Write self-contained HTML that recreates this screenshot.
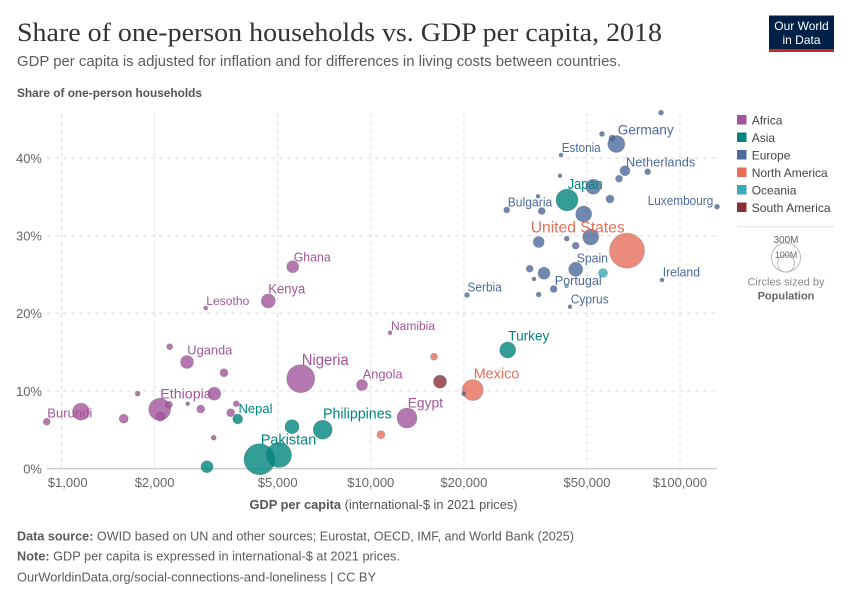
<!DOCTYPE html>
<html><head><meta charset="utf-8"><style>
html,body{margin:0;padding:0;background:#fff;}
svg{display:block;font-family:"Liberation Sans",Arial,sans-serif;}
</style></head><body>
<svg width="850" height="600" viewBox="0 0 850 600" xmlns="http://www.w3.org/2000/svg">
<rect width="850" height="600" fill="#fff"/>
<!-- Header -->
<text x="17" y="41" font-family="Liberation Serif, serif" font-size="26" fill="#333" textLength="645" lengthAdjust="spacingAndGlyphs">Share of one-person households vs. GDP per capita, 2018</text>
<text x="17" y="66" font-size="14.5" fill="#5b5b5b" textLength="604" lengthAdjust="spacingAndGlyphs">GDP per capita is adjusted for inflation and for differences in living costs between countries.</text>
<text x="17" y="97" font-size="12" font-weight="bold" fill="#555" textLength="185" lengthAdjust="spacingAndGlyphs">Share of one-person households</text>
<!-- Logo -->
<rect x="769" y="15.5" width="65" height="36" fill="#002147"/>
<rect x="769" y="49" width="65" height="3" fill="#ce261e"/>
<text x="801.5" y="30" font-size="12" fill="#fff" text-anchor="middle">Our World</text>
<text x="801.5" y="44" font-size="12" fill="#fff" text-anchor="middle">in Data</text>

<!-- Grid -->
<g stroke="#ddd" stroke-width="1" stroke-dasharray="4,4" fill="none">
<line x1="47" y1="391" x2="717" y2="391"/>
<line x1="47" y1="313.3" x2="717" y2="313.3"/>
<line x1="47" y1="235.7" x2="717" y2="235.7"/>
<line x1="47" y1="158" x2="717" y2="158"/>
<line x1="61.5" y1="113" x2="61.5" y2="468"/>
<line x1="154.6" y1="113" x2="154.6" y2="468"/>
<line x1="277.7" y1="113" x2="277.7" y2="468"/>
<line x1="370.8" y1="113" x2="370.8" y2="468"/>
<line x1="463.9" y1="113" x2="463.9" y2="468"/>
<line x1="587" y1="113" x2="587" y2="468"/>
<line x1="680" y1="113" x2="680" y2="468"/>
</g>
<line x1="47" y1="468.7" x2="717" y2="468.7" stroke="#bbb" stroke-width="1"/>

<!-- Y tick labels -->
<g font-size="13" fill="#666" text-anchor="end">
<text x="42" y="473.5">0%</text>
<text x="42" y="395.8">10%</text>
<text x="42" y="318">20%</text>
<text x="42" y="240.5">30%</text>
<text x="42" y="162.8">40%</text>
</g>
<!-- X tick labels -->
<g font-size="13" fill="#666" text-anchor="middle">
<text x="67.7" y="487">$1,000</text>
<text x="154.6" y="487">$2,000</text>
<text x="277.7" y="487">$5,000</text>
<text x="370.8" y="487">$10,000</text>
<text x="463.9" y="487">$20,000</text>
<text x="587" y="487">$50,000</text>
<text x="680" y="487">$100,000</text>
</g>
<text x="249.5" y="509" font-size="13" fill="#555" textLength="268" lengthAdjust="spacingAndGlyphs"><tspan font-weight="bold">GDP per capita</tspan> (international-$ in 2021 prices)</text>

<!-- Bubbles -->
<g stroke="#333" stroke-opacity="0.3" stroke-width="0.6" fill-opacity="0.8">
<!-- large first -->
<circle cx="627" cy="250.7" r="17.5" fill="#e56e5a"/>
<circle cx="259.5" cy="459.3" r="15.5" fill="#00847e"/>
<circle cx="300.7" cy="378.7" r="14" fill="#a2559c"/>
<circle cx="279" cy="455" r="12.5" fill="#00847e"/>
<circle cx="159.7" cy="409.3" r="11" fill="#a2559c"/>
<circle cx="567" cy="200" r="11" fill="#00847e"/>
<circle cx="472.7" cy="390" r="10.5" fill="#e56e5a"/>
<circle cx="407" cy="418" r="10" fill="#a2559c"/>
<circle cx="322.7" cy="429.7" r="9.5" fill="#00847e"/>
<circle cx="81" cy="411.7" r="8.5" fill="#a2559c"/>
<circle cx="616.3" cy="144" r="8.5" fill="#4c6a9c"/>
<circle cx="583.7" cy="214" r="8" fill="#4c6a9c"/>
<circle cx="590.7" cy="237" r="8" fill="#4c6a9c"/>
<circle cx="507.7" cy="350" r="8" fill="#00847e"/>
<circle cx="593.3" cy="186.7" r="7.5" fill="#4c6a9c"/>
<circle cx="268.3" cy="301" r="7" fill="#a2559c"/>
<circle cx="292" cy="426.7" r="7" fill="#00847e"/>
<circle cx="575.7" cy="269.3" r="7" fill="#4c6a9c"/>
<circle cx="187" cy="362" r="6.5" fill="#a2559c"/>
<circle cx="214.3" cy="393.7" r="6.5" fill="#a2559c"/>
<circle cx="440" cy="381.7" r="6.5" fill="#883039"/>
<circle cx="292.7" cy="266.7" r="6" fill="#a2559c"/>
<circle cx="207" cy="466.7" r="6" fill="#00847e"/>
<circle cx="544" cy="273.3" r="6" fill="#4c6a9c"/>
<circle cx="362" cy="385" r="5.5" fill="#a2559c"/>
<circle cx="538.7" cy="242" r="5.5" fill="#4c6a9c"/>
<circle cx="237.7" cy="419" r="5" fill="#00847e"/>
<circle cx="625" cy="170.7" r="5" fill="#4c6a9c"/>
<circle cx="123.7" cy="418.7" r="4.5" fill="#a2559c"/>
<circle cx="160.3" cy="416.7" r="4.5" fill="#a2559c"/>
<circle cx="603" cy="273" r="4.5" fill="#38aaba"/>
<circle cx="224" cy="372.7" r="4" fill="#a2559c"/>
<circle cx="200.7" cy="409" r="4" fill="#a2559c"/>
<circle cx="230.7" cy="412.7" r="4" fill="#a2559c"/>
<circle cx="381" cy="434.7" r="4" fill="#e56e5a"/>
<circle cx="610" cy="199" r="4" fill="#4c6a9c"/>
<circle cx="46.7" cy="421.7" r="3.5" fill="#a2559c"/>
<circle cx="169" cy="404.7" r="3.5" fill="#a2559c"/>
<circle cx="434" cy="356.7" r="3.5" fill="#e56e5a"/>
<circle cx="619" cy="178.7" r="3.5" fill="#4c6a9c"/>
<circle cx="541.7" cy="211" r="3.5" fill="#4c6a9c"/>
<circle cx="575.7" cy="245.7" r="3.5" fill="#4c6a9c"/>
<circle cx="529.7" cy="268.7" r="3.5" fill="#4c6a9c"/>
<circle cx="553.7" cy="289" r="3.5" fill="#4c6a9c"/>
<circle cx="169.7" cy="346.7" r="3" fill="#a2559c"/>
<circle cx="236.3" cy="403.7" r="3" fill="#a2559c"/>
<circle cx="612" cy="138" r="3" fill="#4c6a9c"/>
<circle cx="647.7" cy="171.7" r="3" fill="#4c6a9c"/>
<circle cx="506.7" cy="210" r="3" fill="#4c6a9c"/>
<circle cx="137.7" cy="393.7" r="2.5" fill="#a2559c"/>
<circle cx="213.7" cy="437.7" r="2.5" fill="#a2559c"/>
<circle cx="467" cy="295" r="2.5" fill="#4c6a9c"/>
<circle cx="661" cy="112.7" r="2.5" fill="#4c6a9c"/>
<circle cx="602" cy="134" r="2.5" fill="#4c6a9c"/>
<circle cx="717" cy="206.7" r="2.5" fill="#4c6a9c"/>
<circle cx="566.7" cy="238.7" r="2.5" fill="#4c6a9c"/>
<circle cx="538.7" cy="294.5" r="2.5" fill="#4c6a9c"/>
<circle cx="205.7" cy="308" r="2" fill="#a2559c"/>
<circle cx="187.7" cy="403.7" r="2" fill="#a2559c"/>
<circle cx="390" cy="332.7" r="2" fill="#a2559c"/>
<circle cx="566.5" cy="286" r="2" fill="#38aaba"/>
<circle cx="463.7" cy="393.7" r="2" fill="#4c6a9c"/>
<circle cx="561" cy="155" r="2" fill="#4c6a9c"/>
<circle cx="560" cy="175.7" r="2" fill="#4c6a9c"/>
<circle cx="538" cy="196.3" r="2" fill="#4c6a9c"/>
<circle cx="534" cy="279" r="2" fill="#4c6a9c"/>
<circle cx="570" cy="306.7" r="2" fill="#4c6a9c"/>
<circle cx="662" cy="280" r="2" fill="#4c6a9c"/>
</g>

<!-- Labels -->
<g lengthAdjust="spacingAndGlyphs">
<g fill="#a2559c">
<text x="47.3" y="417.7" font-size="13" textLength="45" lengthAdjust="spacingAndGlyphs">Burundi</text>
<text x="187.3" y="354.7" font-size="13" textLength="45" lengthAdjust="spacingAndGlyphs">Uganda</text>
<text x="206.3" y="305" font-size="11.5" textLength="43" lengthAdjust="spacingAndGlyphs">Lesotho</text>
<text x="268.3" y="293.5" font-size="13.5" textLength="37" lengthAdjust="spacingAndGlyphs">Kenya</text>
<text x="293.7" y="261.3" font-size="13" textLength="37" lengthAdjust="spacingAndGlyphs">Ghana</text>
<text x="160.3" y="398.7" font-size="14" textLength="51.4" lengthAdjust="spacingAndGlyphs">Ethiopia</text>
<text x="301.7" y="364.8" font-size="16" textLength="47" lengthAdjust="spacingAndGlyphs">Nigeria</text>
<text x="362.7" y="378.6" font-size="13" textLength="40" lengthAdjust="spacingAndGlyphs">Angola</text>
<text x="391" y="330" font-size="11.5" textLength="44" lengthAdjust="spacingAndGlyphs">Namibia</text>
<text x="407.7" y="407.3" font-size="14" textLength="35.3" lengthAdjust="spacingAndGlyphs">Egypt</text>
</g>
<g fill="#00847e">
<text x="238.5" y="413" font-size="13" textLength="34" lengthAdjust="spacingAndGlyphs">Nepal</text>
<text x="260.7" y="444.5" font-size="15" textLength="55.6" lengthAdjust="spacingAndGlyphs">Pakistan</text>
<text x="323" y="418.5" font-size="14.5" textLength="68.7" lengthAdjust="spacingAndGlyphs">Philippines</text>
<text x="508.3" y="340.7" font-size="14" textLength="41" lengthAdjust="spacingAndGlyphs">Turkey</text>
<text x="567.7" y="189" font-size="15" textLength="35" lengthAdjust="spacingAndGlyphs">Japan</text>
</g>
<g fill="#e56e5a">
<text x="473.7" y="378.6" font-size="15" textLength="45.6" lengthAdjust="spacingAndGlyphs">Mexico</text>
<text x="530.7" y="232.3" font-size="16" textLength="94" lengthAdjust="spacingAndGlyphs">United States</text>
</g>
<g fill="#4c6a9c">
<text x="467.5" y="291.5" font-size="12.5" textLength="34.3" lengthAdjust="spacingAndGlyphs">Serbia</text>
<text x="561.7" y="152" font-size="12.5" textLength="39" lengthAdjust="spacingAndGlyphs">Estonia</text>
<text x="617.7" y="134.7" font-size="14" textLength="56" lengthAdjust="spacingAndGlyphs">Germany</text>
<text x="626" y="166.3" font-size="13" textLength="69.3" lengthAdjust="spacingAndGlyphs">Netherlands</text>
<text x="507.7" y="206.6" font-size="12.5" textLength="44.6" lengthAdjust="spacingAndGlyphs">Bulgaria</text>
<text x="647.7" y="205" font-size="12.5" textLength="65.6" lengthAdjust="spacingAndGlyphs">Luxembourg</text>
<text x="576.7" y="262.3" font-size="13" textLength="31.3" lengthAdjust="spacingAndGlyphs">Spain</text>
<text x="554.7" y="285" font-size="13" textLength="47" lengthAdjust="spacingAndGlyphs">Portugal</text>
<text x="570.7" y="303.6" font-size="12.5" textLength="38" lengthAdjust="spacingAndGlyphs">Cyprus</text>
<text x="662.7" y="276.6" font-size="12.5" textLength="37.3" lengthAdjust="spacingAndGlyphs">Ireland</text>
</g>
</g>

<!-- Legend -->
<g font-size="12" fill="#444">
<rect x="737" y="115" width="9.5" height="9.5" fill="#a2559c"/><text x="751.7" y="124.3">Africa</text>
<rect x="737" y="132.5" width="9.5" height="9.5" fill="#00847e"/><text x="751.7" y="141.8">Asia</text>
<rect x="737" y="150" width="9.5" height="9.5" fill="#4c6a9c"/><text x="751.7" y="159.3">Europe</text>
<rect x="737" y="167.5" width="9.5" height="9.5" fill="#e56e5a"/><text x="751.7" y="176.8">North America</text>
<rect x="737" y="185" width="9.5" height="9.5" fill="#38aaba"/><text x="751.7" y="194.3">Oceania</text>
<rect x="737" y="202.5" width="9.5" height="9.5" fill="#883039"/><text x="751.7" y="211.8" textLength="79" lengthAdjust="spacingAndGlyphs">South America</text>
</g>
<line x1="737" y1="226.7" x2="834" y2="226.7" stroke="#ddd" stroke-width="1"/>
<circle cx="786" cy="257.5" r="14.5" fill="none" stroke="#bbb" stroke-width="1"/>
<circle cx="786" cy="263.5" r="8.5" fill="none" stroke="#bbb" stroke-width="1"/>
<text x="786" y="243" font-size="10" fill="#666" text-anchor="middle">300M</text>
<text x="786" y="258" font-size="9" fill="#666" text-anchor="middle">100M</text>
<text x="786" y="285.5" font-size="11" fill="#888" text-anchor="middle">Circles sized by</text>
<text x="786" y="299.5" font-size="11" font-weight="bold" fill="#666" text-anchor="middle">Population</text>

<!-- Footer -->
<g font-size="12.5" fill="#5b5b5b">
<text x="17" y="540.5" textLength="557" lengthAdjust="spacingAndGlyphs"><tspan font-weight="bold">Data source:</tspan> OWID based on UN and other sources; Eurostat, OECD, IMF, and World Bank (2025)</text>
<text x="17" y="560.5" textLength="383" lengthAdjust="spacingAndGlyphs"><tspan font-weight="bold">Note:</tspan> GDP per capita is expressed in international-$ at 2021 prices.</text>
<text x="17" y="581.5" textLength="359" lengthAdjust="spacingAndGlyphs">OurWorldinData.org/social-connections-and-loneliness | CC BY</text>
</g>
</svg>
</body></html>
